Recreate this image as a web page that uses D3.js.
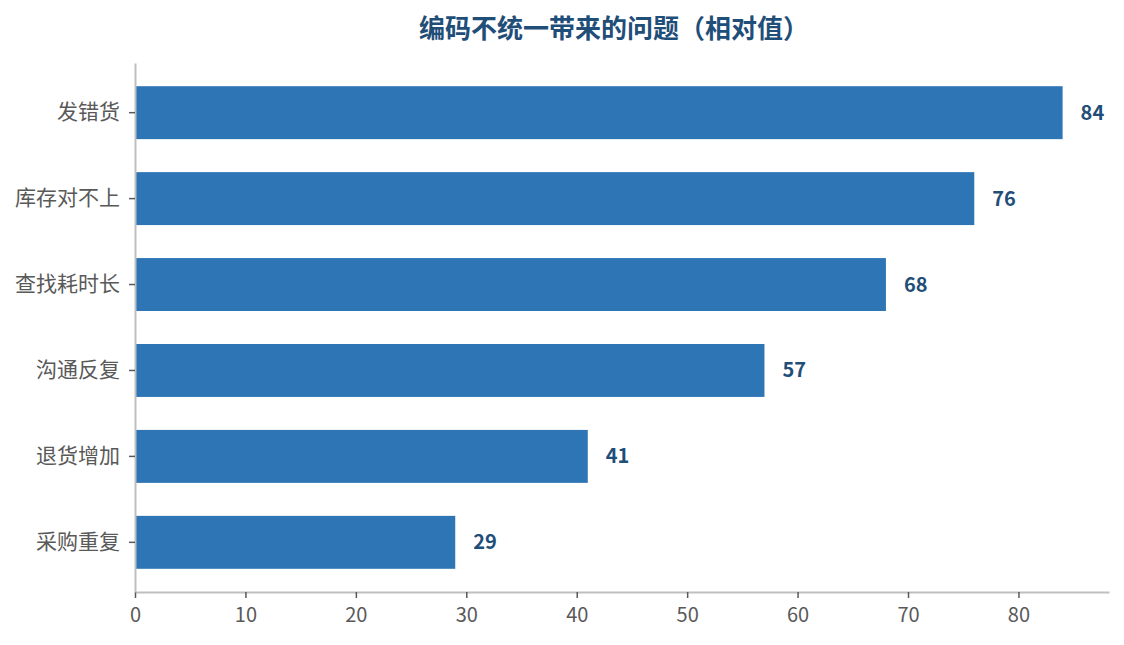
<!DOCTYPE html>
<html lang="zh">
  <head>
    <meta charset="utf-8">
    <title>编码不统一带来的问题</title>
    <script src="https://cdn.jsdelivr.net/npm/d3@7"></script>
    <style type="text/css">
      body { margin: 0; background: #fff; }
      #chart { width: 1124px; height: 645px; }
      text { font-family: "Noto Sans CJK SC", "Noto Sans", sans-serif; }
    </style>
  </head>
  <body>
    <div id="chart"></div>
    <script type="text/javascript">
      var categories = ["发错货", "库存对不上", "查找耗时长", "沟通反复", "退货增加", "采购重复"];
      var values = [84, 76, 68, 57, 41, 29];
      var xTicks = [0, 10, 20, 30, 40, 50, 60, 70, 80];
      var title = "编码不统一带来的问题（相对值）";

      var width = 1124, height = 645;
      var margin = {top: 63, right: 15, bottom: 53, left: 135};

      var svg = d3.select("#chart").append("svg")
        .attr("width", width).attr("height", height);

      var x = d3.scaleLinear()
        .domain([0, d3.max(values) * 1.05])
        .range([margin.left, width - margin.right]);

      var y = d3.scaleBand()
        .domain(categories)
        .range([margin.top, height - margin.bottom])
        .paddingInner(0.384)
        .paddingOuter(0.27);

      // bars
      svg.selectAll("rect.bar")
        .data(values)
        .enter().append("rect")
        .attr("class", "bar")
        .attr("x", x(0))
        .attr("y", function (d, i) { return y(categories[i]); })
        .attr("width", function (d) { return x(d) - x(0); })
        .attr("height", y.bandwidth())
        .attr("fill", "#2E75B6");

      // value labels
      svg.selectAll("text.val")
        .data(values)
        .enter().append("text")
        .attr("class", "val")
        .attr("x", function (d) { return x(d) + 18; })
        .attr("y", function (d, i) { return y(categories[i]) + y.bandwidth() / 2; })
        .attr("dy", "0.35em")
        .style("font-size", "20px")
        .style("font-weight", "bold")
        .style("fill", "#1F4E79")
        .text(function (d) { return d; });

      // x axis
      var xAxis = svg.append("g")
        .attr("transform", "translate(0," + (height - margin.bottom) + ")")
        .call(d3.axisBottom(x).tickValues(xTicks).tickSize(6).tickSizeOuter(0).tickPadding(10));
      xAxis.select(".domain").attr("stroke", "#BFBFBF").attr("stroke-width", 2);
      xAxis.selectAll(".tick line").attr("stroke", "#595959").attr("stroke-width", 1.5);
      xAxis.selectAll(".tick text")
        .style("font-size", "20px").style("fill", "#595959")
        .attr("font-family", null);

      // y axis
      var yAxis = svg.append("g")
        .attr("transform", "translate(" + margin.left + ",0)")
        .call(d3.axisLeft(y).tickSize(6).tickSizeOuter(0).tickPadding(9));
      yAxis.select(".domain").attr("stroke", "#BFBFBF").attr("stroke-width", 2);
      yAxis.selectAll(".tick line").attr("stroke", "#595959").attr("stroke-width", 1.5);
      yAxis.selectAll(".tick text")
        .style("font-size", "21px").style("fill", "#595959")
        .attr("font-family", null);

      // title
      svg.append("text")
        .attr("x", 614)
        .attr("y", 29)
        .attr("dy", "0.35em")
        .attr("text-anchor", "middle")
        .style("font-size", "26px")
        .style("font-weight", "bold")
        .style("fill", "#1F4E79")
        .text(title);
    </script>
  </body>
</html>
